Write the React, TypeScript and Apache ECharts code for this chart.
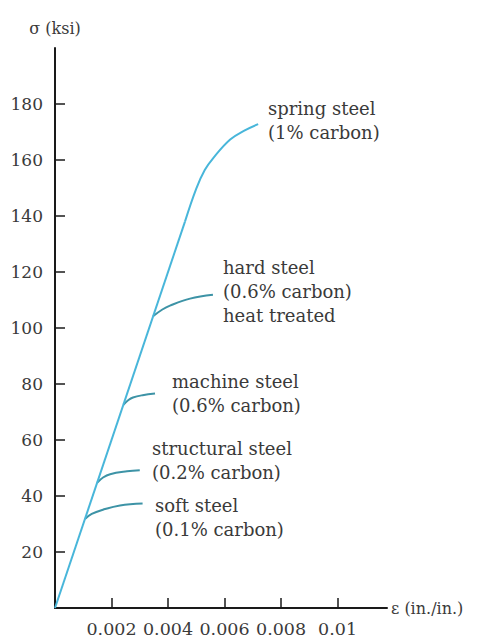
import React, { useEffect, useRef } from "react";
import * as echarts from "echarts";

// Tick values and labels
const xTickValues = [0.002, 0.004, 0.006, 0.008, 0.01];
const xTickLabels = ["0.002", "0.004", "0.006", "0.008", "0.01"];
const yTickValues = [20, 40, 60, 80, 100, 120, 140, 160, 180];
const yTickLabels = ["20", "40", "60", "80", "100", "120", "140", "160", "180"];

// Elastic (linear) part shared by all steels
const elasticStrain = [0, 0.0046];
const elasticStress = [0, 138];

// Post-yield branches
const springStrain = [0.0046, 0.005, 0.0053, 0.0056, 0.0062, 0.0067, 0.00719];
const springStress = [138, 149.8, 156.4, 160.7, 167.3, 170.5, 172.8];

const hardStrain = [0.00347, 0.0038, 0.00407, 0.00478, 0.00559];
const hardStress = [104.2, 106.6, 108, 110.5, 111.9];

const machineStrain = [0.00242, 0.0026, 0.00276, 0.0031, 0.00354];
const machineStress = [72.6, 74.3, 75.2, 76.0, 76.6];

const structuralStrain = [0.00149, 0.0017, 0.00195, 0.00255, 0.003];
const structuralStress = [44.7, 46.6, 47.8, 48.8, 49.2];

const softStrain = [0.00106, 0.0013, 0.0017, 0.0023, 0.0031];
const softStress = [31.8, 33.6, 35.1, 36.6, 37.3];

const labels = [
  { text: "spring steel\n(1% carbon)", x: 268, y: 96 },
  { text: "hard steel\n(0.6% carbon)\nheat treated", x: 223, y: 255 },
  { text: "machine steel\n(0.6% carbon)", x: 172, y: 369 },
  { text: "structural steel\n(0.2% carbon)", x: 152, y: 436 },
  { text: "soft steel\n(0.1% carbon)", x: 155, y: 493 },
];

const zip = (a: number[], b: number[]) => a.map((v, i) => [v, b[i]]);

const FONT = '"DejaVu Serif", serif';
const TEXT = "#3a3a3a";
const AXIS = "#1a1a1a";
const MAIN = "#48b6da";
const BRANCH = "#3d93a6";

export default function App() {
  const ref = useRef<HTMLDivElement>(null);
  useEffect(() => {
    if (!ref.current) return;
    const chart = echarts.init(ref.current, null, { renderer: "svg" });
    const branch = (name: string, xs: number[], ys: number[], color = BRANCH) => ({
      name,
      type: "line",
      data: zip(xs, ys),
      smooth: 0.4,
      showSymbol: false,
      symbol: "none",
      lineStyle: { color, width: 2 },
      z: 3,
    });
    chart.setOption({
      animation: false,
      backgroundColor: "#ffffff",
      grid: { left: 55, right: 100, top: 48, bottom: 30 },
      xAxis: {
        type: "value",
        min: 0,
        max: 0.01175,
        name: "ε (in./in.)",
        nameLocation: "end",
        nameGap: 4,
        nameTextStyle: { fontFamily: FONT, fontSize: 16, color: TEXT },
        axisLine: { show: true, lineStyle: { color: AXIS, width: 2 } },
        axisTick: {
          show: true,
          inside: true,
          length: 10,
          customValues: xTickValues,
          lineStyle: { color: AXIS, width: 1.5 },
        },
        axisLabel: {
          customValues: xTickValues,
          margin: 12,
          fontFamily: FONT,
          fontSize: 17.5,
          color: TEXT,
          formatter: (v: number) => {
            const i = xTickValues.findIndex((t) => Math.abs(t - v) < 1e-9);
            return i >= 0 ? xTickLabels[i] : "";
          },
        },
        splitLine: { show: false },
      },
      yAxis: {
        type: "value",
        min: 0,
        max: 200,
        name: "σ (ksi)",
        nameLocation: "end",
        nameGap: 12,
        nameTextStyle: { fontFamily: FONT, fontSize: 16, color: TEXT, align: "center" },
        axisLine: { show: true, lineStyle: { color: AXIS, width: 2 } },
        axisTick: {
          show: true,
          inside: true,
          length: 10,
          customValues: yTickValues,
          lineStyle: { color: AXIS, width: 1.5 },
        },
        axisLabel: {
          customValues: yTickValues,
          margin: 12,
          fontFamily: FONT,
          fontSize: 17,
          color: TEXT,
          formatter: (v: number) => {
            const i = yTickValues.indexOf(v);
            return i >= 0 ? yTickLabels[i] : "";
          },
        },
        splitLine: { show: false },
      },
      graphic: labels.map((l) => ({
        type: "text",
        x: l.x,
        y: l.y,
        style: {
          text: l.text,
          font: `18px ${FONT}`,
          fill: TEXT,
          lineHeight: 24,
          verticalAlign: "top",
        },
      })),
      series: [
        {
          name: "elastic",
          type: "line",
          data: zip(elasticStrain, elasticStress),
          showSymbol: false,
          symbol: "none",
          lineStyle: { color: MAIN, width: 2 },
          z: 4,
        },
        branch("spring steel", springStrain, springStress, MAIN),
        branch("hard steel", hardStrain, hardStress),
        branch("machine steel", machineStrain, machineStress),
        branch("structural steel", structuralStrain, structuralStress),
        branch("soft steel", softStrain, softStress),
      ],
    });
    return () => chart.dispose();
  }, []);
  return (
    <div
      ref={ref}
      style={{ position: "fixed", left: 0, top: 0, width: 487, height: 638, background: "#fff" }}
    />
  );
}
